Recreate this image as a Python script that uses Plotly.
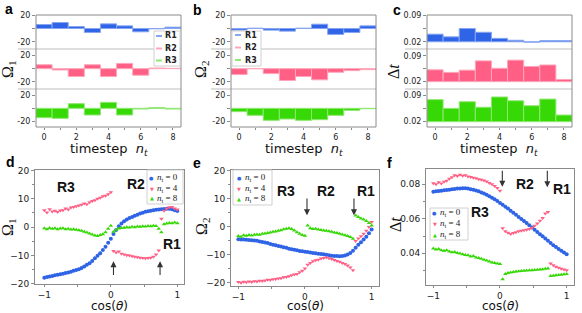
import plotly.graph_objects as go

W, H = 582, 313

# ---------------- data ----------------
nt = [0, 1, 2, 3, 4, 5, 6, 7, 8]
nt_labels = ["0", "", "2", "", "4", "", "6", "", "8"]

a_R1 = [6, 9, 3, -6, 7, 4, -5, -0.5, 2]
a_R2 = [6, -2, -12, 6, -12, 8, -10, 1, 0.5]
a_R3 = [-14, -15, 7, -10, 9, -10, -1, 1, -1]

b_R1 = [-2.5, 0.5, -2.5, -4, 0.5, 6.5, -9, -6, 4]
b_R2 = [-9, 0, -7.5, -18, -12, -17, -5.5, -3, -1.5]
b_R3 = [-5, -10.5, -18, -16, -18, -17, -10.5, -3, -0.5]

c_R1 = [0.040, 0.033, 0.055, 0.045, 0.029, 0.024, 0.019, 0.023, 0.023]
c_R2 = [0.052, 0.045, 0.051, 0.076, 0.056, 0.078, 0.061, 0.065, 0.026]
c_R3 = [0.078, 0.055, 0.0725, 0.058, 0.085, 0.075, 0.062, 0.0795, 0.0375]

cos_theta = [-1.0, -0.96, -0.92, -0.88, -0.84, -0.8, -0.76, -0.72, -0.68, -0.64,
             -0.6, -0.56, -0.52, -0.48, -0.44, -0.4, -0.36, -0.32, -0.28, -0.24,
             -0.2, -0.16, -0.12, -0.08, -0.04, 0.0, 0.04, 0.08, 0.12, 0.16,
             0.2, 0.24, 0.28, 0.32, 0.36, 0.4, 0.44, 0.48, 0.52, 0.56,
             0.6, 0.64, 0.68, 0.72, 0.76, 0.8, 0.84, 0.88, 0.92, 0.96, 1.0]

d_nt0 = [-17.8, -17.6, -17.4, -17.2, -17.0, -16.8, -16.6, -16.4, -16.2, -16.0,
         -15.7, -15.4, -15.1, -14.8, -14.4, -13.9, -13.3, -12.7, -11.9, -11.0,
         -10.1, -9.2, -8.1, -6.9, -5.5, -4.1, -2.4, -1.0, 0.3, 1.3,
         2.1, 2.7, 3.2, 3.6, 4.0, 4.4, 4.8, 5.1, 5.4, 5.6,
         5.8, 6.0, 6.1, 6.2, 6.3, 6.4, 6.5, 6.5, 6.3, 6.0, 5.7]
d_nt4 = [6.0, 5.2, 6.3, 5.5, 5.8, 5.3, 5.9, 6.0, 6.6, 6.2,
         6.9, 7.1, 7.4, 7.6, 7.9, 8.3, 8.1, 8.8, 9.2, 9.5,
         10.0, 10.4, 10.9, 11.1, 11.6, 12.3, -8.4, -8.9, -8.6, -9.4,
         -9.6, -9.9, -10.0, -10.3, -10.4, -10.6, -10.8, -10.9, -11.0, -10.9,
         -10.8, -10.4, -9.6, -8.2, 3.0, 5.8, 6.6, 7.0, 7.1, 6.6, 6.2]
d_nt8 = [-0.4, -0.7, -0.3, -0.6, -0.4, -0.7, -0.5, -0.4, -0.7, -0.6,
         -0.8, -0.7, -0.9, -1.1, -1.3, -1.6, -1.9, -2.2, -2.6, -2.9,
         -3.1, -2.8, -2.5, -1.8, -0.6, 0.5, -1.6, -0.9, -0.5, -0.3,
         -0.2, 0.0, -0.1, 0.1, 0.0, 0.2, 0.1, 0.3, 0.2, 0.4,
         0.3, 0.5, 0.4, -0.6, -1.8, 1.0, 1.3, 1.5, 1.4, 1.6, 1.4]

e_nt0 = [-4.5, -4.6, -4.6, -4.7, -4.8, -4.9, -5.0, -5.1, -5.3, -5.5,
         -5.7, -5.9, -6.2, -6.5, -6.7, -6.9, -7.1, -7.4, -7.6, -7.9,
         -8.1, -8.3, -8.5, -8.7, -8.8, -9.0, -9.1, -9.3, -9.4, -9.5,
         -9.7, -9.8, -9.9, -10.1, -10.2, -10.4, -10.5, -10.5, -10.6, -10.5,
         -10.3, -10.0, -9.4, -8.6, -7.6, -6.5, -5.6, -4.6, -3.6, -2.4, -1.1]
e_nt4 = [-19.8, -20.0, -19.7, -19.9, -19.6, -19.8, -19.5, -19.6, -19.3, -19.4,
         -19.2, -19.0, -19.1, -18.8, -18.7, -18.5, -18.4, -18.1, -18.0, -17.7,
         -17.4, -17.1, -16.9, -16.3, -15.8, -15.0, -13.6, -13.0, -12.4, -12.0,
         -11.8, -11.4, -11.2, -11.0, -11.3, -11.6, -11.9, -12.3, -12.6, -13.0,
         -13.4, -13.9, -14.6, -15.6, -5.2, -4.3, -3.5, -2.6, -1.5, -0.2, 1.6]
e_nt8 = [-3.4, -3.6, -3.1, -3.3, -3.0, -3.2, -2.9, -2.8, -2.9, -2.6,
         -2.5, -2.3, -2.1, -1.9, -1.8, -1.5, -1.3, -1.0, -0.8, -0.6,
         -0.9, -1.4, -2.0, -2.6, -3.0, -3.3, 0.4, -0.6, -0.9, -0.8,
         -1.1, -1.2, -1.4, -1.5, -1.7, -1.9, -2.1, -2.3, -2.6, -2.8,
         -3.1, -3.4, -3.7, -4.4, 3.9, 3.4, 2.9, 2.5, 2.0, 1.3, 0.4]

f_nt0 = [0.0757, 0.0759, 0.0761, 0.0763, 0.0765, 0.0767, 0.0769, 0.0771, 0.0773, 0.0775,
         0.0776, 0.0777, 0.0777, 0.0775, 0.0772, 0.0768, 0.0764, 0.0759, 0.0753, 0.0746,
         0.0739, 0.0731, 0.0722, 0.0713, 0.0703, 0.0692, 0.0681, 0.0670, 0.0659, 0.0647,
         0.0635, 0.0623, 0.0611, 0.0599, 0.0587, 0.0575, 0.0562, 0.0550, 0.0537, 0.0524,
         0.0511, 0.0498, 0.0485, 0.0472, 0.0459, 0.0447, 0.0436, 0.0425, 0.0414, 0.0404, 0.0395]
f_nt4 = [0.0806, 0.0800, 0.0812, 0.0804, 0.0815, 0.0820, 0.0832, 0.0841, 0.0852, 0.0848,
         0.0856, 0.0849, 0.0853, 0.0845, 0.0842, 0.0838, 0.0835, 0.0830, 0.0826, 0.0822,
         0.0816, 0.0808, 0.0800, 0.0790, 0.0779, 0.0762, 0.0545, 0.0528, 0.0519, 0.0512,
         0.0518, 0.0522, 0.0527, 0.0530, 0.0534, 0.0537, 0.0541, 0.0548, 0.0560, 0.0572,
         0.0588, 0.0605, 0.0630, 0.0640, 0.0340, 0.0330, 0.0322, 0.0316, 0.0310, 0.0306, 0.0302]
f_nt8 = [0.0428, 0.0422, 0.0425, 0.0418, 0.0415, 0.0417, 0.0410, 0.0406, 0.0408, 0.0401,
         0.0398, 0.0395, 0.0390, 0.0388, 0.0382, 0.0384, 0.0376, 0.0372, 0.0368, 0.0362,
         0.0358, 0.0352, 0.0347, 0.0344, 0.0340, 0.0338, 0.0250, 0.0280, 0.0286, 0.0289,
         0.0292, 0.0294, 0.0296, 0.0297, 0.0299, 0.0300, 0.0301, 0.0302, 0.0303, 0.0305,
         0.0306, 0.0308, 0.0310, 0.0312, 0.0268, 0.0270, 0.0272, 0.0274, 0.0276, 0.0278, 0.0280]

# ---------------- styling ----------------
BLUE, PINK, GREEN = "#2f64e6", "#ff5f84", "#36d806"
BLUE_E, PINK_E, GREEN_E = "#86a6f2", "#ffa6ba", "#8fe870"
FILLS = [BLUE, PINK, GREEN]
EDGES = [BLUE_E, PINK_E, GREEN_E]
FRAME = "#8a8a8a"
SEP = "#bdbdbd"
TICKFONT = dict(family="DejaVu Sans", size=8, color="#222")
TICKFONT_B = dict(family="DejaVu Sans", size=9, color="#222")
SERIF = "Liberation Serif"


def xp(px):
    return px / W


def yp(py):
    return 1 - py / H


def names(k):
    return ("x" if k == 1 else f"x{k}"), ("y" if k == 1 else f"y{k}"), \
           ("xaxis" if k == 1 else f"xaxis{k}"), ("yaxis" if k == 1 else f"yaxis{k}")


def text_at(x, y, text, font, xanchor="center", **kw):
    d = dict(xref="paper", yref="paper", x=xp(x), y=yp(y), text=text, showarrow=False,
             xanchor=xanchor, yanchor="middle", font=font)
    d.update(kw)
    return d


fig = go.Figure()
layout = dict(template="none", width=W, height=H, autosize=False,
              margin=dict(l=0, r=0, t=0, b=0, pad=0),
              paper_bgcolor="white", plot_bgcolor="rgba(0,0,0,0)",
              showlegend=False, barmode="overlay", hovermode=False)
shapes, annots = [], []

rows = [(15, 49), (49, 89), (89, 127)]
top_panels = [
    dict(L=36, R=181, sepL=18, series=[a_R1, a_R2, a_R3], base=0,
         ranges=[[-31, 20.4], [-31, 30], [-28, 29]],
         tv=[-20, 0, 20], tt=["-20", "", "20"]),
    dict(L=231, R=376, sepL=211, series=[b_R1, b_R2, b_R3], base=0,
         ranges=[[-31, 20.4], [-31, 30], [-28, 29]],
         tv=[-20, 0, 20], tt=["-20", "", "20"]),
    dict(L=427, R=572, sepL=405, series=[c_R1, c_R2, c_R3], base=0.02,
         ranges=[[0.001, 0.0905], [0.0003, 0.108], [0.006, 0.106]],
         tv=[0.02, 0.055, 0.09], tt=["0.02", "", "0.09"]),
]

k = 1
for p in top_panels:
    for s in range(3):
        xn, yn, xk, yk = names(k)
        top, bot = rows[s]
        vals = p["series"][s]
        fig.add_trace(go.Bar(
            x=nt, y=[v - p["base"] for v in vals], base=p["base"], width=1,
            marker=dict(color=FILLS[s], line=dict(color=EDGES[s], width=1)),
            xaxis=xn, yaxis=yn, hoverinfo="skip"))
        xa = dict(domain=[xp(p["L"]), xp(p["R"])], range=[-0.5, 8.5], anchor=yn,
                  showgrid=False, zeroline=False, showline=False, automargin=False)
        if s == 2:
            xa.update(tickmode="array", tickvals=nt, ticktext=nt_labels,
                      ticks="outside", ticklen=2, tickcolor=FRAME, tickfont=TICKFONT)
        else:
            xa.update(showticklabels=False, ticks="")
        ya = dict(domain=[yp(bot), yp(top)], range=p["ranges"][s], anchor=xn,
                  showgrid=False, zeroline=False, showline=False, automargin=False,
                  tickmode="array", tickvals=p["tv"], ticktext=p["tt"],
                  ticks="outside", ticklen=3, tickcolor=FRAME, tickfont=TICKFONT)
        layout[xk] = xa
        layout[yk] = ya
        k += 1
    # separators and frame
    for yy in (49, 89):
        shapes.append(dict(type="line", xref="paper", yref="paper",
                           x0=xp(p["sepL"]), x1=xp(p["R"]), y0=yp(yy), y1=yp(yy),
                           line=dict(color=SEP, width=1)))
    shapes.append(dict(type="rect", xref="paper", yref="paper",
                       x0=xp(p["L"]), x1=xp(p["R"]), y0=yp(127), y1=yp(15),
                       line=dict(color=FRAME, width=1), fillcolor="rgba(0,0,0,0)"))
    annots.append(text_at((p["L"] + p["R"]) / 2, 149, "timestep  <i>n<sub>t</sub></i>",
                          dict(family="DejaVu Sans", size=13, color="#111")))

# bottom panels
bottom_panels = [
    dict(L=35, R=184, T=170, B=284.3, xr=[-1.14, 1.1], yr=[-20.15, 20.15], dt=10, mdt=5,
         fmt="", series=[d_nt0, d_nt4, d_nt8]),
    dict(L=231, R=379.3, T=170, B=286, xr=[-1.11, 1.115], yr=[-21.2, 20.15], dt=10, mdt=5,
         fmt="", series=[e_nt0, e_nt4, e_nt8]),
    dict(L=426, R=574.3, T=169.3, B=285, xr=[-1.11, 1.115], yr=[0.0216, 0.0887], dt=0.02, mdt=0.01,
         fmt=".2f", series=[f_nt0, f_nt4, f_nt8]),
]
symbols = ["circle", "triangle-down", "triangle-up"]
for p in bottom_panels:
    xn, yn, xk, yk = names(k)
    for s in range(3):
        fig.add_trace(go.Scatter(
            x=cos_theta, y=p["series"][s], mode="markers",
            marker=dict(symbol=symbols[s], size=4, color=FILLS[s], line=dict(width=0)),
            xaxis=xn, yaxis=yn, hoverinfo="skip"))
    layout[xk] = dict(domain=[xp(p["L"]), xp(p["R"])], range=p["xr"], anchor=yn,
                      showgrid=False, zeroline=False, showline=True, mirror=True, automargin=False,
                      linecolor=FRAME, linewidth=1, tickmode="linear", tick0=0, dtick=1,
                      ticks="outside", ticklen=2, tickcolor=FRAME, tickfont=TICKFONT_B,
                      minor=dict(dtick=0.5, tick0=0, ticklen=2, ticks="outside", tickcolor=FRAME))
    layout[yk] = dict(domain=[yp(p["B"]), yp(p["T"])], range=p["yr"], anchor=xn,
                      showgrid=False, zeroline=False, showline=True, mirror=True, automargin=False,
                      linecolor=FRAME, linewidth=1, tickmode="linear", tick0=0, dtick=p["dt"],
                      tickformat=p["fmt"],
                      ticks="outside", ticklen=3, tickcolor=FRAME, tickfont=TICKFONT_B,
                      minor=dict(dtick=p["mdt"], tick0=0, ticklen=2, ticks="outside", tickcolor=FRAME))
    annots.append(text_at((p["L"] + p["R"]) / 2, 306, "cos(<i>θ</i>)",
                          dict(family="DejaVu Sans", size=12, color="#111")))
    k += 1

# y-axis titles
for (x, y, t) in [(8, 70, "Ω<sub>1</sub>"), (201, 70, "Ω<sub>2</sub>"), (393, 72, "Δ<i>t</i>"),
                  (8, 228, "Ω<sub>1</sub>"), (202, 227, "Ω<sub>2</sub>"), (395, 225, "Δ<i>t</i>")]:
    annots.append(text_at(x, y, t, dict(family=SERIF, size=16, color="#111"), textangle=-90))

# panel letters
for (x, y, t) in [(9, 9, "a"), (197, 10, "b"), (397, 10, "c"),
                  (10, 162, "d"), (197, 163, "e"), (390, 163, "f")]:
    annots.append(text_at(x, y, f"<b>{t}</b>", dict(family="Liberation Sans", size=14, color="#000")))

# region labels (data coordinates)
region_labels = [("x10", "y10", -0.67, 14.2, "R3"), ("x10", "y10", 0.38, 15.2, "R2"), ("x10", "y10", 0.92, -6.0, "R1"),
                 ("x11", "y11", -0.28, 12.6, "R3"), ("x11", "y11", 0.32, 12.6, "R2"), ("x11", "y11", 0.92, 12.6, "R1"),
                 ("x12", "y12", 0.37, 0.0801, "R2"), ("x12", "y12", 0.93, 0.0770, "R1"), ("x12", "y12", -0.3, 0.0638, "R3")]
for xr_, yr_, x, y, t in region_labels:
    annots.append(dict(xref=xr_, yref=yr_, x=x, y=y, text=f"<b>{t}</b>", showarrow=False,
                       xanchor="center", yanchor="middle",
                       font=dict(family="Liberation Sans", size=14, color="#111")))

# arrows
arrows = [("x10", "y10", 0.04, -17.4, -12.0), ("x10", "y10", 0.74, -17.4, -12.0),
          ("x11", "y11", 0.03, 10.5, 4.0), ("x11", "y11", 0.735, 10.5, 4.0),
          ("x12", "y12", 0.035, 0.0887, 0.0786), ("x12", "y12", 0.71, 0.0887, 0.0783)]
for xr_, yr_, x, y0, y1 in arrows:
    annots.append(dict(xref=xr_, yref=yr_, axref=xr_, ayref=yr_, x=x, y=y1, ax=x, ay=y0,
                       text="", showarrow=True, arrowhead=2, arrowsize=1.1, arrowwidth=1.1,
                       arrowcolor="#333"))

# custom legends: top row (lines)
def line_legend(x0, x1, y0, y1, lx0, lx1, tx, ys):
    shapes.append(dict(type="rect", xref="paper", yref="paper", x0=xp(x0), x1=xp(x1),
                       y0=yp(y1), y1=yp(y0), line=dict(color="#d0d0d0", width=1), fillcolor="white"))
    for i, (yy, lab) in enumerate(zip(ys, ["R1", "R2", "R3"])):
        shapes.append(dict(type="line", xref="paper", yref="paper", x0=xp(lx0), x1=xp(lx1),
                           y0=yp(yy), y1=yp(yy), line=dict(color=EDGES[i], width=2)))
        annots.append(text_at(tx, yy, f"<b>{lab}</b>",
                              dict(family="DejaVu Sans", size=8, color="#222"), xanchor="left"))

line_legend(154, 180, 31, 66, 156, 162, 163, [36.0, 48.5, 60.5])
line_legend(232, 261, 31, 66, 235, 241, 242.5, [35.0, 47.5, 60.0])

# custom legends: bottom row (markers)
glyphs = ["●", "▼", "▲"]
def marker_legend(x0, x1, y0, y1, mx, tx, ys):
    shapes.append(dict(type="rect", xref="paper", yref="paper", x0=xp(x0), x1=xp(x1),
                       y0=yp(y1), y1=yp(y0), line=dict(color="#d0d0d0", width=1), fillcolor="white"))
    for i, (yy, lab) in enumerate(zip(ys, ["0", "4", "8"])):
        annots.append(text_at(mx, yy, glyphs[i], dict(family="DejaVu Sans", size=5, color=FILLS[i])))
        annots.append(text_at(tx, yy, f"<i>n</i><sub>t</sub> = {lab}",
                              dict(family=SERIF, size=9, color="#222"), xanchor="left"))

marker_legend(147, 183, 170, 204, 151.5, 154.5, [178.0, 188.5, 198.0])
marker_legend(233, 272, 170, 205, 239.0, 242.5, [178.0, 188.5, 198.5])
marker_legend(430, 468, 208, 240, 434.5, 438.0, [212.5, 223.5, 234.5])

layout["shapes"] = shapes
layout["annotations"] = annots
fig.update_layout(**layout)
fig.write_html("out.html", config={"displayModeBar": False, "staticPlot": True},
               post_script="document.body.style.margin='0px';document.body.style.overflow='hidden';")
